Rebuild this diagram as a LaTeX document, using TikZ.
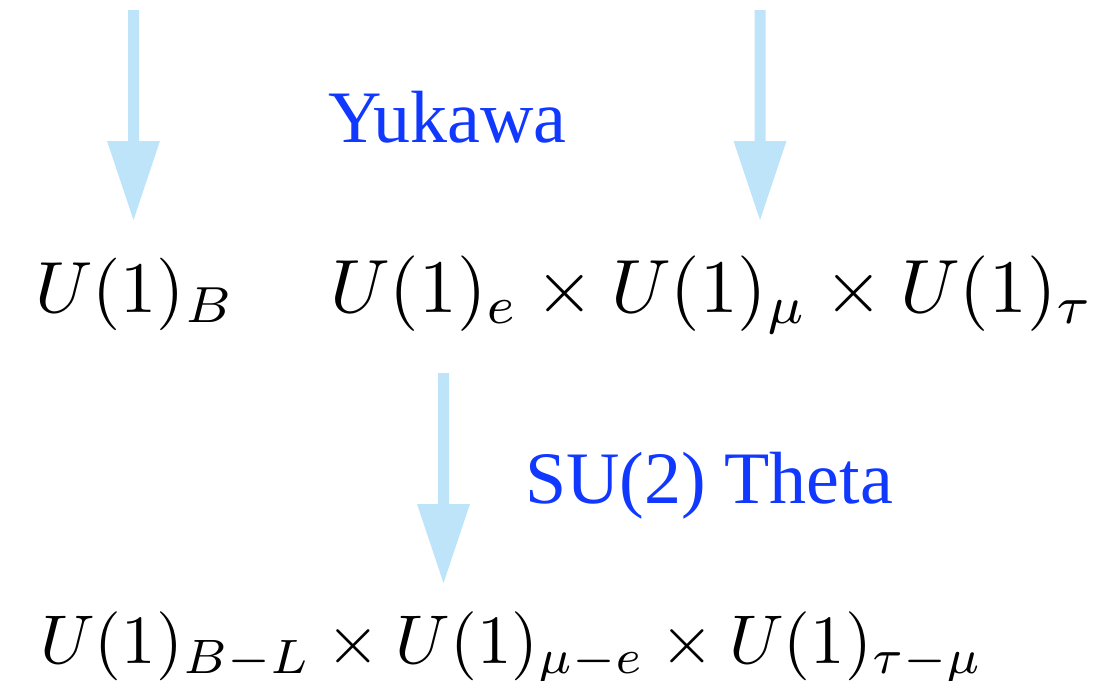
\RequirePackage{fix-cm}
\documentclass[tikz,border=0pt]{standalone}
\usepackage{fontspec}
\setmainfont{Liberation Serif}
\definecolor{arrowblue}{RGB}{190,228,250}
\definecolor{labelblue}{RGB}{16,56,255}
\tikzset{
  mathtxt/.style={inner sep=0pt, anchor=base west, font=\fontsize{10}{12}\selectfont},
  bluetxt/.style={inner sep=0pt, anchor=base west, text=labelblue, font=\rmfamily\fontsize{74}{80}\selectfont},
  fatarrow/.style={fill=arrowblue, draw=none}
}
\newcommand{\fatdown}[4]{% x, top y, head y, tip y
  \fill[fatarrow] (#1-5.5,#2) -- (#1+5.5,#2) -- (#1+5.5,#3) -- (#1+26.5,#3) -- (#1,#4) -- (#1-26.5,#3) -- (#1-5.5,#3) -- cycle;}
\newcommand{\scaledmath}[2]{\scalebox{#1}{$#2$}}
\begin{document}
\begin{tikzpicture}[x=1pt,y=-1pt]
\useasboundingbox (0,0) rectangle (1097,680);
\fatdown{133.5}{10}{141}{220}
\fatdown{760}{10}{141}{220}
\fatdown{443.5}{373}{504}{583}
\node[bluetxt] (yuk) at (328,142) {Yukawa};
\node[bluetxt] (su2) at (525,503) {SU(2) Theta};
\node[mathtxt] (ub) at (35,312) {\scaledmath{7.25}{U(1)_B}};
\node[mathtxt] (ul) at (330,312) {\scaledmath{7.55}{U(1)_e\times U(1)_\mu\times U(1)_\tau}};
\node[mathtxt] (bot) at (40,663) {\scaledmath{6.9}{U(1)_{B-L}\times U(1)_{\mu-e}\times U(1)_{\tau-\mu}}};
\end{tikzpicture}
\end{document}
